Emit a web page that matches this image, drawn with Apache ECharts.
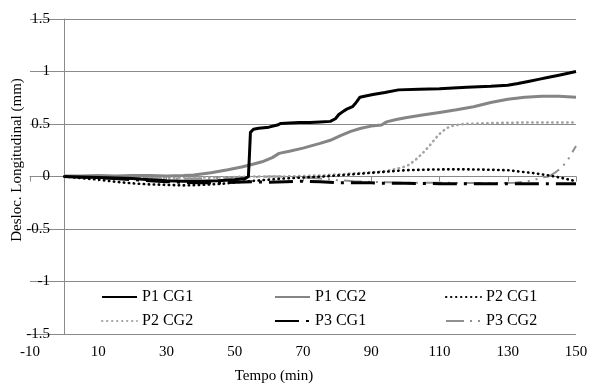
<!DOCTYPE html>
<html>
<head>
<meta charset="utf-8">
<script src="https://cdn.jsdelivr.net/npm/echarts@6/dist/echarts.min.js"></script>
<style>
html,body{margin:0;padding:0;background:#fff;}
#chart{width:596px;height:389px;}
</style>
</head>
<body>
<div id="chart"></div>
<script>
const seriesNames = ['P1 CG1', 'P1 CG2', 'P2 CG1', 'P2 CG2', 'P3 CG1', 'P3 CG2'];
const xTicks = { min: -10, max: 150, interval: 20 };
const yTicks = { min: -1.5, max: 1.5, interval: 0.5 };

const p1cg1 = [[0,0],[5,-0.005],[10,-0.01],[15,-0.015],[20,-0.02],[25,-0.03],[30,-0.04],[35,-0.045],[40,-0.045],[45,-0.04],[50,-0.03],[53,-0.02],[54,0.0],[54.3,0.2],[54.6,0.42],[55.5,0.45],[57,0.46],[60,0.47],[62.5,0.49],[63.5,0.505],[66,0.51],[69,0.515],[72,0.515],[75,0.52],[78,0.525],[79.5,0.55],[80.5,0.59],[82,0.625],[83,0.645],[84.5,0.665],[85.2,0.69],[85.8,0.715],[86.7,0.755],[88,0.765],[90.5,0.78],[94,0.8],[98,0.825],[104,0.83],[110,0.835],[118,0.85],[125,0.86],[130,0.87],[133,0.885],[136,0.905],[139,0.925],[142,0.945],[145,0.965],[148,0.985],[150,1.0]];
const p1cg2 = [[0,0.005],[5,0.005],[10,0.01],[15,0.005],[20,0.01],[25,0.01],[30,0.005],[35,0.01],[38,0.015],[43,0.035],[48,0.065],[52,0.09],[55,0.115],[58,0.14],[61,0.18],[63,0.22],[66,0.24],[70,0.27],[75,0.315],[78,0.345],[81,0.39],[84,0.43],[87,0.46],[90,0.48],[93,0.49],[94.5,0.52],[97,0.54],[100,0.56],[105,0.585],[110,0.61],[115,0.635],[120,0.665],[125,0.705],[130,0.735],[135,0.755],[140,0.765],[145,0.765],[150,0.755]];
const p2cg1 = [[0,0],[5,-0.015],[10,-0.03],[15,-0.05],[20,-0.065],[25,-0.075],[30,-0.08],[35,-0.085],[40,-0.08],[46,-0.07],[52,-0.05],[58,-0.035],[64,-0.02],[70,-0.01],[76,0.0],[82,0.015],[88,0.03],[94,0.045],[100,0.06],[106,0.065],[112,0.068],[118,0.068],[124,0.065],[130,0.06],[134,0.045],[137,0.035],[140,0.02],[143,0.005],[146,-0.015],[150,-0.045]];
const p2cg2 = [[0,0],[5,0.0],[10,-0.005],[15,-0.01],[20,-0.01],[25,-0.015],[30,-0.015],[35,-0.01],[40,-0.01],[45,-0.01],[50,-0.005],[55,0.0],[60,0.0],[65,0.0],[70,0.005],[75,0.01],[80,0.02],[85,0.03],[90,0.04],[94,0.05],[97,0.07],[99,0.085],[101,0.11],[103,0.16],[105,0.22],[107,0.29],[109,0.37],[110.5,0.42],[112,0.46],[114,0.485],[117,0.5],[122,0.505],[128,0.51],[135,0.515],[142,0.515],[150,0.515]];
const p3cg1 = [[0,0],[5,-0.005],[10,-0.01],[15,-0.02],[20,-0.03],[25,-0.04],[30,-0.05],[35,-0.055],[40,-0.06],[45,-0.06],[50,-0.055],[55,-0.05],[60,-0.055],[65,-0.05],[70,-0.045],[75,-0.05],[80,-0.06],[85,-0.06],[90,-0.06],[95,-0.065],[100,-0.065],[110,-0.068],[120,-0.07],[130,-0.07],[140,-0.068],[150,-0.07]];
const p3cg2 = [[0,0],[5,0.0],[10,0.0],[15,-0.005],[20,-0.01],[25,-0.015],[30,-0.02],[35,-0.02],[40,-0.02],[45,-0.015],[50,-0.01],[55,-0.005],[60,0.0],[65,0.0],[70,-0.01],[75,-0.02],[80,-0.035],[85,-0.045],[90,-0.05],[95,-0.055],[100,-0.06],[110,-0.06],[120,-0.062],[128,-0.062],[132,-0.06],[135,-0.05],[138,-0.03],[140,-0.01],[142,0.0],[144,0.04],[146,0.09],[148,0.18],[150,0.29]];

const seriesData = [p1cg1, p1cg2, p2cg1, p2cg2, p3cg1, p3cg2];
const styles = [
  { color: '#000000', width: 3, type: 'solid', cap: 'butt' },
  { color: '#858585', width: 3, type: 'solid', cap: 'butt' },
  { color: '#000000', width: 2.6, type: [0.4, 4.6], cap: 'round' },
  { color: '#a3a3a3', width: 2.6, type: [0.4, 4.6], cap: 'round' },
  { color: '#000000', width: 3, type: [24, 7, 3, 7], cap: 'butt' },
  { color: '#8f8f8f', width: 2, type: [18, 6, 2, 6, 2, 6], cap: 'butt' }
];

const font = "'Liberation Serif', 'Times New Roman', serif";
const gridColor = '#8a8a8a';

const chart = echarts.init(document.getElementById('chart'), null, { renderer: 'canvas' });

function legendCol(left, names) {
  return {
    orient: 'vertical', left: left, top: 289, padding: 0,
    itemWidth: 35, itemHeight: 4, itemGap: 8,
    itemStyle: { opacity: 0 },
    data: names, selectedMode: false,
    textStyle: { fontFamily: font, fontSize: 16, color: '#000' }
  };
}

const option = {
  animation: false,
  backgroundColor: '#fff',
  grid: { left: 30, right: 20, top: 19, bottom: 55, containLabel: false, outerBoundsMode: 'none' },
  legend: [
    legendCol(101, ['P1 CG1', 'P2 CG2']),
    legendCol(274, ['P1 CG2', 'P3 CG1']),
    legendCol(445, ['P2 CG1', 'P3 CG2'])
  ],
  xAxis: [
    {
      type: 'value', position: 'bottom', min: xTicks.min, max: xTicks.max, interval: xTicks.interval,
      axisLine: { show: true, onZero: true, lineStyle: { color: gridColor, width: 1 } },
      axisTick: { show: true, length: 5, lineStyle: { color: gridColor } },
      axisLabel: { show: false },
      splitLine: { show: false }
    },
    {
      type: 'value', position: 'bottom', min: xTicks.min, max: xTicks.max, interval: xTicks.interval,
      axisLine: { show: false, onZero: false },
      axisTick: { show: false },
      axisLabel: { show: true, margin: 11, fontFamily: font, fontSize: 15, color: '#000' },
      splitLine: { show: false },
      name: 'Tempo (min)', nameLocation: 'middle', nameGap: 35,
      nameTextStyle: { fontFamily: font, fontSize: 15, color: '#000', padding: [0, 58, 0, 0] }
    }
  ],
  yAxis: {
    type: 'value', position: 'left', offset: -34, min: yTicks.min, max: yTicks.max, interval: yTicks.interval,
    axisLine: { show: true, onZero: false, lineStyle: { color: gridColor, width: 1 } },
    axisTick: { show: false },
    axisLabel: { margin: 14, fontFamily: font, fontSize: 15, color: '#000' },
    splitLine: { show: true, lineStyle: { color: gridColor, width: 1 } },
    name: 'Desloc. Longitudinal (mm)', nameLocation: 'middle', nameGap: 39, nameMoveOverlap: false,
    nameTextStyle: { fontFamily: font, fontSize: 15, color: '#000', padding: [0, 0, 0, 33] }
  },
  series: seriesNames.map((n, i) => ({
    name: n, type: 'line', xAxisIndex: 0, yAxisIndex: 0,
    data: seriesData[i], symbol: 'none', showSymbol: false,
    lineStyle: styles[i], itemStyle: { color: styles[i].color },
    z: 10 - i
  }))
};
chart.setOption(option);
</script>
</body>
</html>
